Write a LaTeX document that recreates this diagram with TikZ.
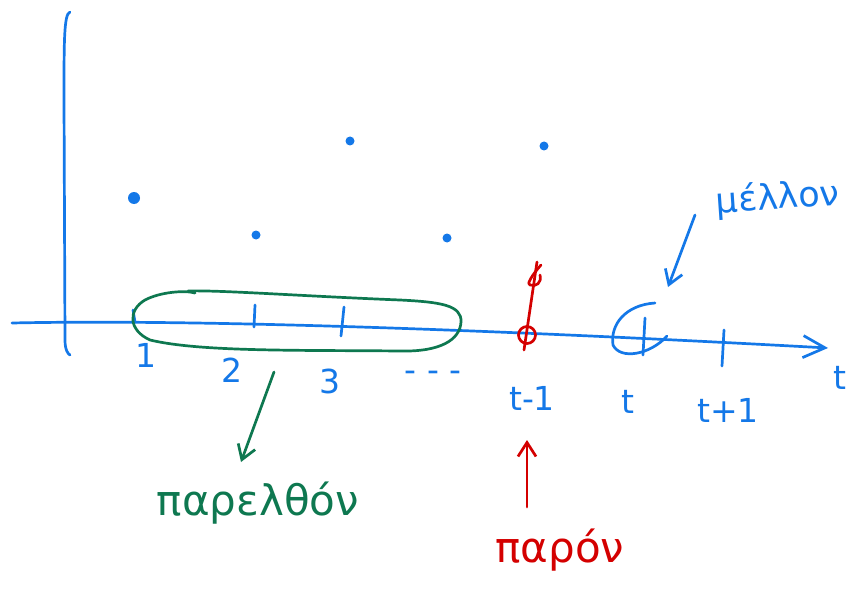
\documentclass[tikz,border=0pt]{standalone}
\usepackage{fontspec}
\setmainfont{DejaVu Sans}
\usetikzlibrary{arrows.meta}
\definecolor{pblue}{RGB}{20,120,232}
\definecolor{pgreen}{RGB}{14,120,80}
\definecolor{pred}{RGB}{212,0,0}
\tikzset{
  ink/.style={line width=2.7pt, line cap=round, line join=round},
  barb/.style={-{Straight Barb[length=14pt,width=18pt,line width=2.7pt]}},
  lbl/.style={text=pblue, font=\fontsize{33}{38}\selectfont, inner sep=0pt},
  dotpt/.style={circle, fill=pblue, inner sep=0pt, minimum size=9pt},
  bigword/.style={font=\fontsize{42}{48}\selectfont, inner sep=0pt}
}
\begin{document}
\begin{tikzpicture}[x=1pt,y=-1pt]
\useasboundingbox[fill=white] (0,0) rectangle (853,596);
% axes
\draw[ink, pblue] (70,12) .. controls (64,14) and (64,40) .. (64,100) -- (65,340) .. controls (65,350) and (68,354) .. (70,355);
\coordinate (ax0) at (12,323);
\coordinate (axE) at (828,348);
\draw[ink, pblue, -{Straight Barb[length=22pt,width=22pt,line width=2.7pt]}] (ax0) .. controls (200,319) and (500,330) .. (axE);
\node[lbl] (tax) at (840,378) {t};
% ticks
\draw[ink, pblue] (133,310) -- (135,322);
\draw[ink, pblue] (255,305) -- (254,327);
\draw[ink, pblue] (344,307) -- (341,336);
\draw[ink, pblue] (645,318) -- (643,355);
\draw[ink, pblue] (724,330) -- (722,366);
% labels
\node[lbl] (l1) at (146,355) {1};
\node[lbl] (l2) at (232,370) {2};
\node[lbl] (l3) at (330,381) {3};
\node[lbl] (ldots) at (433,376) {- - -};
\node[lbl] (ltm1) at (532,398) {t-1};
\node[lbl] (lt) at (628,402) {t};
\node[lbl] (ltp1) at (728,410) {t+1};
% dots
\node[dotpt, minimum size=12pt] (d1) at (134,198) {};
\node[dotpt] (d2) at (256,235) {};
\node[dotpt] (d3) at (350,141) {};
\node[dotpt] (d4) at (447,238) {};
\node[dotpt] (d5) at (544,146) {};
% past (green)
\draw[ink, pgreen] (195,293) .. controls (185,290) and (160,292) .. (145,300) .. controls (128,310) and (128,330) .. (150,340) .. controls (200,352) and (300,350) .. (400,351) .. controls (440,352) and (460,340) .. (461,322) .. controls (462,305) and (440,302) .. (400,300) .. controls (300,296) and (220,290) .. (188,291);
\node[bigword, text=pgreen] (past) at (258,503) {παρελθόν};
\coordinate (pastTip) at (241,462);
\draw[ink, pgreen, barb] (274,372) -- (pastTip);
% present (red)
\draw[ink, pred] (537,262) -- (524,350);
\draw[ink, pred] (541,265) .. controls (532,275) and (526,285) .. (530,285) .. controls (536,287) and (542,283) .. (540,275);
\node[circle, draw=pred, line width=2.7pt, minimum size=17pt, inner sep=0pt] (pres) at (527,335) {};
\node[bigword, text=pred] (now) at (560,550) {παρόν};
\coordinate (nowTip) at (527,440);
\draw[ink, pred, barb] (527,507) -- (nowTip);
% future (blue)
\draw[ink, pblue] (655,303) .. controls (625,305) and (610,325) .. (613,345) .. controls (620,360) and (650,355) .. (667,336);
\node[bigword, text=pblue, font=\fontsize{35}{40}\selectfont, rotate=4, anchor=west] (fut) at (716,203) {μέλλον};
\coordinate (futTip) at (668,287);
\draw[ink, pblue, barb] (695,215) -- (futTip);
\end{tikzpicture}
\end{document}
